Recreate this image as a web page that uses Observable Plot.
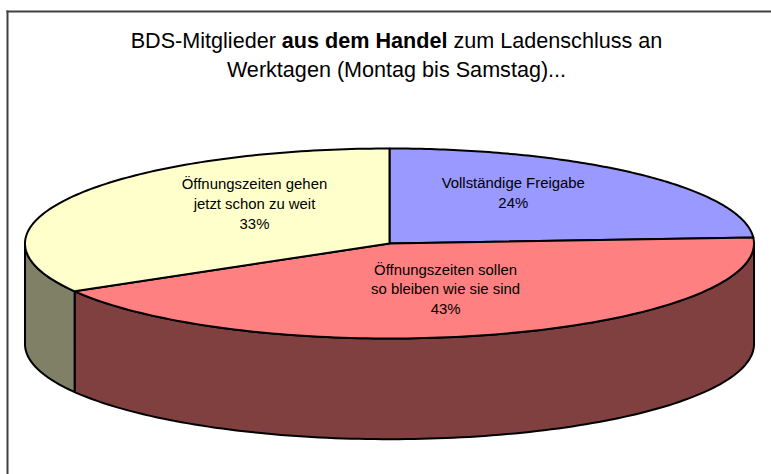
<!DOCTYPE html>
<html><head><meta charset="utf-8">
<script src="https://cdn.jsdelivr.net/npm/d3@7"></script>
<script src="https://cdn.jsdelivr.net/npm/@observablehq/plot@0.6"></script>
<style>
html,body{margin:0;background:#fff}
#chart{position:relative;width:771px;height:474px;overflow:hidden}
#title{position:absolute;left:0;width:793px;top:27px;text-align:center;font:21.6px/28.5px "Liberation Sans",Arial,sans-serif;color:#000;white-space:nowrap}
</style></head><body>
<div id="chart"><div id="title">BDS-Mitglieder <b>aus dem Handel</b> zum Ladenschluss an<br>Werktagen (Montag bis Samstag)...</div></div>
<script>
const categories = ["Vollständige Freigabe", "Öffnungszeiten sollen\nso bleiben wie sie sind", "Öffnungszeiten gehen\njetzt schon zu weit"];
const shares = [24, 42.6, 33.4];
const topColors = ["#9999FF", "#FF8080", "#FFFFCC"];
const sideColors = ["#4D4D80", "#804040", "#808066"];
const labelShift = [[-1, -17], [3, -1], [23, -17]];

const depth = 1.06;
const rad = d => d * Math.PI / 180;
const px = a => Math.sin(rad(a));
const py = a => -Math.cos(rad(a));
const arc = (a0, a1, off = 0) => d3.range(0, 121).map(i => {
  const a = a0 + (a1 - a0) * i / 120;
  return {x: px(a), y: py(a) + off};
});
let acc = 0;
const slices = shares.map((s, i) => {
  const a0 = acc * 3.6; acc += s; const a1 = acc * 3.6;
  return {i, a0, a1, mid: (a0 + a1) / 2};
});
const marks = [];
// side walls (front half only)
for (const s of slices) {
  const a0 = Math.max(s.a0, 90), a1 = Math.min(s.a1, 270);
  if (a1 <= a0) continue;
  const pts = [...arc(a0, a1), ...arc(a1, a0, depth)];
  pts.push(pts[0]);
  marks.push(Plot.line(pts, {x: "x", y: "y", fill: sideColors[s.i], stroke: "#000", strokeWidth: 2, strokeLinejoin: "round"}));
}
// top slices
for (const s of slices) {
  const pts = [{x: 0, y: 0}, ...arc(s.a0, s.a1), {x: 0, y: 0}];
  marks.push(Plot.line(pts, {x: "x", y: "y", fill: topColors[s.i], stroke: "#000", strokeWidth: 2, strokeLinejoin: "round"}));
}
// labels
for (const s of slices) {
  marks.push(Plot.text([s], {
    x: d => 0.5 * px(d.mid), y: d => 0.5 * py(d.mid),
    text: d => `${categories[d.i]}\n${Math.round(shares[d.i])}%`,
    dx: labelShift[s.i][0], dy: labelShift[s.i][1],
    fontSize: 14.9, lineHeight: 1.32, fill: "#000", textAnchor: "middle", lineAnchor: "middle"
  }));
}
marks.push(Plot.frame({anchor: "top", stroke: "#404040", strokeWidth: 2}));
marks.push(Plot.frame({anchor: "left", stroke: "#404040", strokeWidth: 2}));
const plot = Plot.plot({
  width: 771, height: 474,
  marginLeft: 7, marginTop: 11, marginRight: 0, marginBottom: 0,
  style: {fontFamily: '"Liberation Sans",Arial,sans-serif', background: "#fff"},
  x: {domain: [-1, 1], range: [24.5, 753.5], axis: null},
  y: {domain: [-1, 1], range: [148, 338], axis: null},
  marks
});
document.getElementById("chart").prepend(plot);
</script>
</body></html>
